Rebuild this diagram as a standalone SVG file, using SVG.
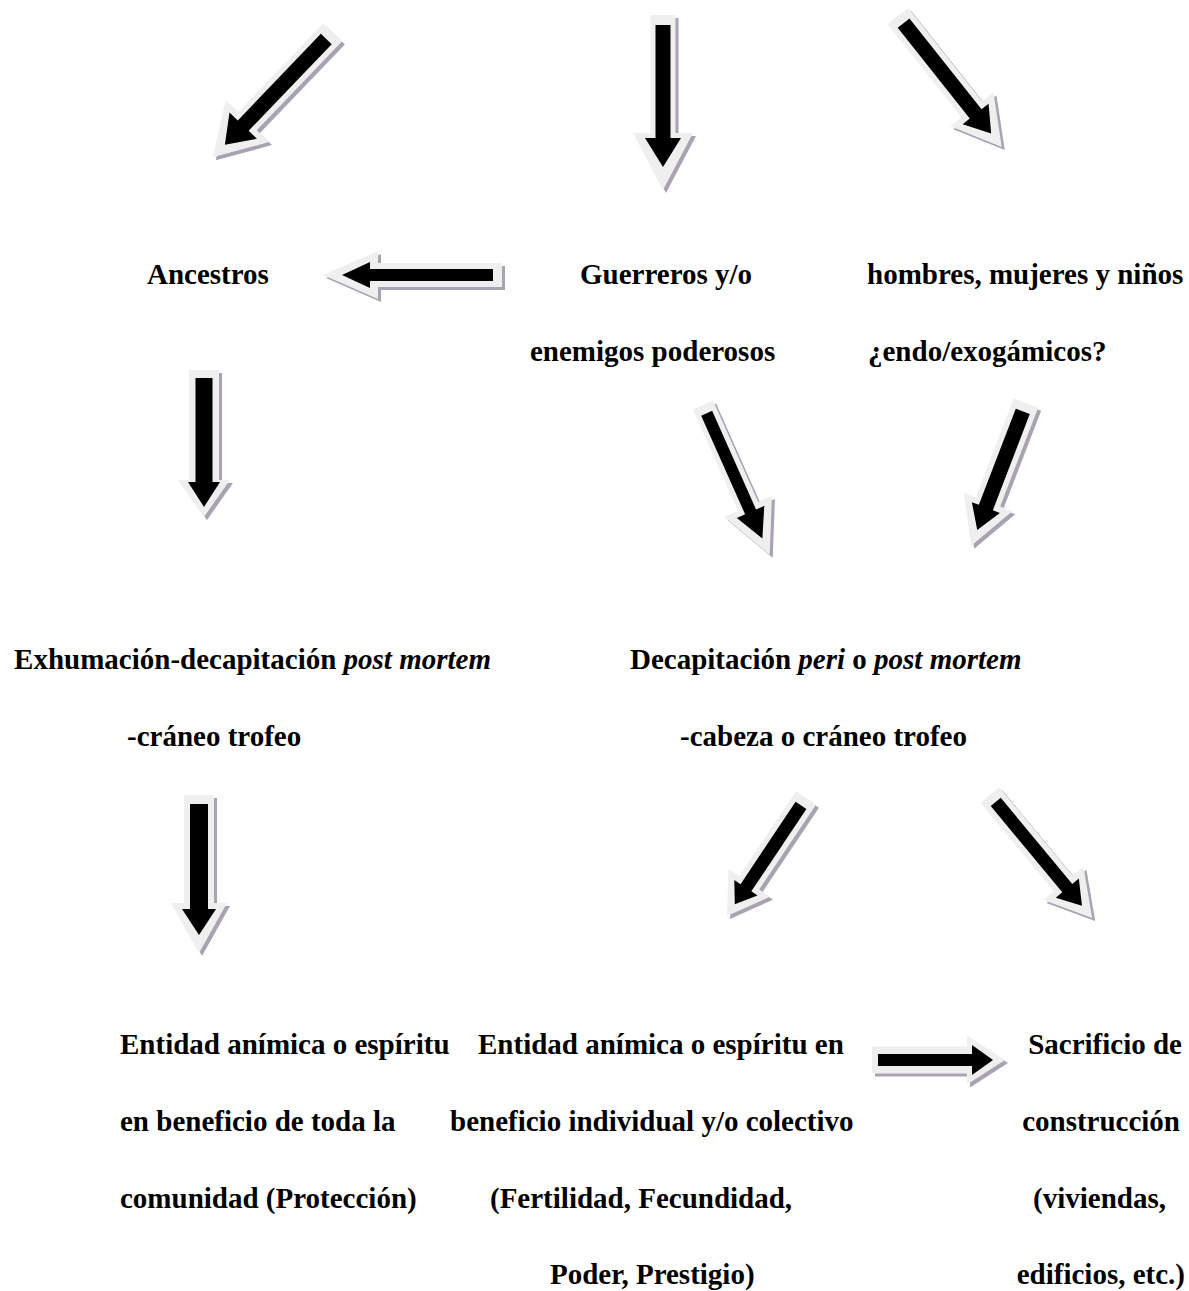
<svg xmlns="http://www.w3.org/2000/svg" width="1189" height="1291" viewBox="0 0 1189 1291">
<style>
text{font-family:"Liberation Serif","Times New Roman",serif;font-size:29px;font-weight:bold;fill:#000}
.it{font-style:italic}
.sh{fill:#a8a2b1}
.out{fill:#efefef}
.in{fill:#000}
</style>
<rect width="1189" height="1291" fill="#fff"/>
<g id="connectors">
<g id="a1">
<polygon class="sh" transform="translate(335.5,35.5) rotate(133.8)" points="0,-13 123,-13 123,-30 173,0 123,30 123,13 0,13"/>
<g transform="translate(332.5,32.5) rotate(133.8)"><polygon class="out" points="0,-13 123,-13 123,-30 173,0 123,30 123,13 0,13"/><polygon class="in" points="9,-7.5 129,-7.5 129,-19 155.5,0 129,19 129,7.5 9,7.5"/></g>
</g>
<g id="a2">
<polygon class="sh" transform="translate(666,18) rotate(90)" points="0,-12.5 118,-12.5 118,-30 175,0 118,30 118,12.5 0,12.5"/>
<g transform="translate(663,15) rotate(90)"><polygon class="out" points="0,-12.5 118,-12.5 118,-30 175,0 118,30 118,12.5 0,12.5"/><polygon class="in" points="10,-7.5 123,-7.5 123,-18 152,0 123,18 123,7.5 10,7.5"/></g>
</g>
<g id="a3">
<polygon class="sh" transform="translate(901,19) rotate(51.6)" points="0,-13 119,-13 119,-27.5 167,0 119,27.5 119,13 0,13"/>
<g transform="translate(898,16) rotate(51.6)"><polygon class="out" points="0,-13 119,-13 119,-27.5 167,0 119,27.5 119,13 0,13"/><polygon class="in" points="9,-7.5 125,-7.5 125,-16.5 150,0 125,16.5 125,7.5 9,7.5"/></g>
</g>
<g id="a4">
<polygon class="sh" transform="translate(505,278) rotate(180)" points="0,-12 124,-12 124,-24 179,0 124,24 124,12 0,12"/>
<g transform="translate(502,275) rotate(180)"><polygon class="out" points="0,-12 124,-12 124,-24 179,0 124,24 124,12 0,12"/><polygon class="in" points="9,-6 132,-6 132,-13 160,0 132,13 132,6 9,6"/></g>
</g>
<g id="a5">
<polygon class="sh" transform="translate(207,373) rotate(90)" points="0,-15 110,-15 110,-26 147,0 110,26 110,15 0,15"/>
<g transform="translate(204,370) rotate(90)"><polygon class="out" points="0,-15 110,-15 110,-26 147,0 110,26 110,15 0,15"/><polygon class="in" points="8,-8.5 112,-8.5 112,-16 137,0 112,16 112,8.5 8,8.5"/></g>
</g>
<g id="a6">
<polygon class="sh" transform="translate(706,408) rotate(66)" points="0,-11 111,-11 111,-26 164,0 111,26 111,11 0,11"/>
<g transform="translate(703,405) rotate(66)"><polygon class="out" points="0,-11 111,-11 111,-26 164,0 111,26 111,11 0,11"/><polygon class="in" points="9,-6 117,-6 117,-15 146,0 117,15 117,6 9,6"/></g>
</g>
<g id="a7">
<polygon class="sh" transform="translate(1029,406) rotate(111)" points="0,-13 106,-13 106,-26 153,0 106,26 106,13 0,13"/>
<g transform="translate(1026,403) rotate(111)"><polygon class="out" points="0,-13 106,-13 106,-26 153,0 106,26 106,13 0,13"/><polygon class="in" points="9,-7.5 112,-7.5 112,-15 136,0 112,15 112,7.5 9,7.5"/></g>
</g>
<g id="a8">
<polygon class="sh" transform="translate(202,798) rotate(90)" points="0,-15 108,-15 108,-28 158,0 108,28 108,15 0,15"/>
<g transform="translate(199,795) rotate(90)"><polygon class="out" points="0,-15 108,-15 108,-28 158,0 108,28 108,15 0,15"/><polygon class="in" points="9,-9 114,-9 114,-17 140,0 114,17 114,9 9,9"/></g>
</g>
<g id="a9">
<polygon class="sh" transform="translate(809,801) rotate(123.8)" points="0,-12 102,-12 102,-25 142,0 102,25 102,12 0,12"/>
<g transform="translate(806,798) rotate(123.8)"><polygon class="out" points="0,-12 102,-12 102,-25 142,0 102,25 102,12 0,12"/><polygon class="in" points="9,-6.5 108,-6.5 108,-14 128,0 108,14 108,6.5 9,6.5"/></g>
</g>
<g id="a10">
<polygon class="sh" transform="translate(993,798) rotate(50.3)" points="0,-12 115,-12 115,-26 160,0 115,26 115,12 0,12"/>
<g transform="translate(990,795) rotate(50.3)"><polygon class="out" points="0,-12 115,-12 115,-26 160,0 115,26 115,12 0,12"/><polygon class="in" points="9,-6.5 121,-6.5 121,-15 144,0 121,15 121,6.5 9,6.5"/></g>
</g>
<g id="a11">
<polygon class="sh" transform="translate(875,1063)" points="0,-13.5 95,-13.5 95,-24.5 133,0 95,24.5 95,13.5 0,13.5"/>
<g transform="translate(872,1060)"><polygon class="out" points="0,-13.5 95,-13.5 95,-24.5 133,0 95,24.5 95,13.5 0,13.5"/><polygon class="in" points="6,-6 100,-6 100,-15 121,0 100,15 100,6 6,6"/></g>
</g>
</g>
<g id="n-ancestros"><text x="147" y="284">Ancestros</text></g>
<g id="n-guerreros"><text x="580" y="284">Guerreros y/o</text><text x="530" y="361">enemigos poderosos</text></g>
<g id="n-hombres"><text x="867" y="284">hombres, mujeres y niños</text><text x="868" y="361">¿endo/exogámicos?</text></g>
<g id="n-exhumacion"><text x="491" y="669" text-anchor="end">Exhumación-decapitación <tspan class="it">post mortem</tspan></text><text x="127" y="746">-cráneo trofeo</text></g>
<g id="n-decapitacion"><text x="630" y="669">Decapitación <tspan class="it">peri</tspan> o <tspan class="it">post mortem</tspan></text><text x="680" y="746">-cabeza o cráneo trofeo</text></g>
<g id="n-entidad1"><text x="120" y="1054">Entidad anímica o espíritu</text><text x="120" y="1131">en beneficio de toda la</text><text x="120" y="1208">comunidad (Protección)</text></g>
<g id="n-entidad2"><text x="478" y="1054">Entidad anímica o espíritu en</text><text x="450" y="1131">beneficio individual y/o colectivo</text><text x="490" y="1208">(Fertilidad, Fecundidad,</text><text x="550" y="1284">Poder, Prestigio)</text></g>
<g id="n-sacrificio"><text x="1182" y="1054" text-anchor="end">Sacrificio de</text><text x="1180" y="1131" text-anchor="end">construcción</text><text x="1166" y="1208" text-anchor="end">(viviendas,</text><text x="1185" y="1284" text-anchor="end">edificios, etc.)</text></g>
</svg>
